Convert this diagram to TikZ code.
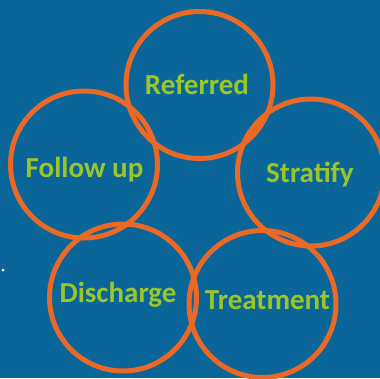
\documentclass[tikz,border=0pt]{standalone}
\usepackage{fontspec}
\setmainfont{Carlito}
\usetikzlibrary{positioning}

\definecolor{bgblue}{RGB}{10,101,152}
\definecolor{ringorange}{RGB}{234,105,38}
\definecolor{wordgreen}{RGB}{154,198,42}

\begin{document}
\begin{tikzpicture}[x=1pt,y=-1pt,
 ring/.style={circle,draw=ringorange,line width=5pt,minimum size=147pt,inner sep=0pt},
 word/.style={text=wordgreen,font=\fontsize{29}{31}\selectfont\bfseries,inner sep=0pt}]
  \fill[bgblue] (0,0) rectangle (380,378);
  \clip (0,0) rectangle (380,378);
  \useasboundingbox (0,0) rectangle (380,378);

  \node[ring] (R) at (199.5,85) {};
  \node[ring] (F) at (84,164.5) {};
  \node[ring] (S) at (311,172.5) {};
  \node[ring] (D) at (123,297.5) {};
  \node[ring] (T) at (262.5,304) {};

  \node[word] (Rt) at (197,84) {Referred};
  \node[word] (Ft) at (84.5,170) {Follow up};
  \node[word] (St) at (310,175) {Stratify};
  \node[word] (Dt) at (118,295) {Discharge};
  \node[word] (Tt) at (267.5,300) {Treatment};

  \fill[white] (3,270) circle [radius=1.5pt];
\end{tikzpicture}
\end{document}
